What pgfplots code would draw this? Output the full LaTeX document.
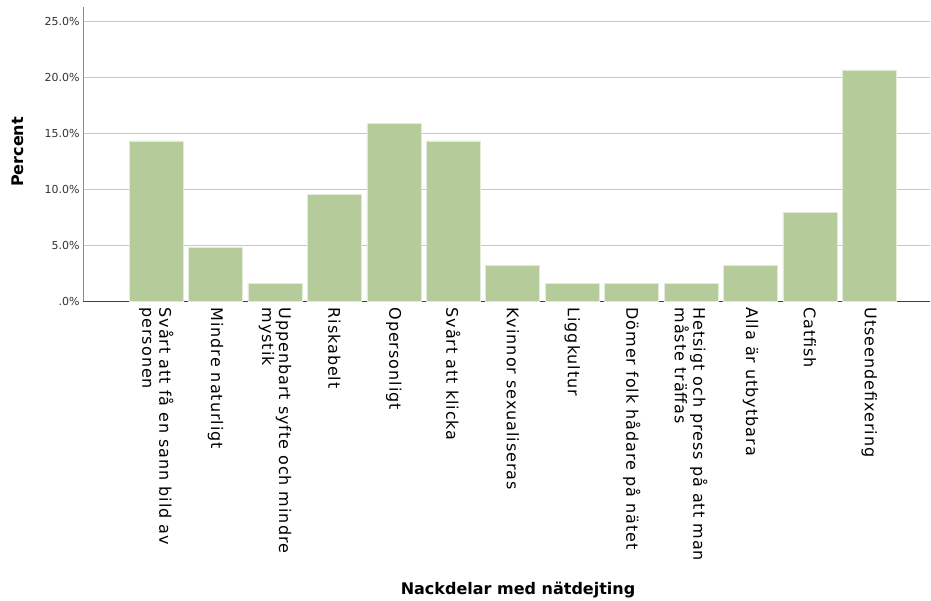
\documentclass[border=0pt]{standalone}
\usepackage{fontspec}
\setmainfont{DejaVu Sans}
\newfontfamily\catfont[LetterSpace=6]{DejaVu Sans}
\usepackage{pgfplots}
\pgfplotsset{compat=1.18}
\definecolor{barc}{RGB}{181,204,154}
\definecolor{gridc}{RGB}{200,200,200}
\definecolor{tickc}{RGB}{50,50,50}
\begin{document}
\begin{tikzpicture}[x=1pt,y=1pt]
\path[use as bounding box] (0,0) rectangle (931,600);
\begin{axis}[
  at={(83pt,299pt)}, anchor=south west,
  scale only axis, width=847pt, height=294pt,
  xmin=-1.23, xmax=13.02, ymin=0, ymax=26.25,
  axis x line=bottom, axis y line=left,
  axis line style={-, draw=black!75, line width=0.8pt},
  y axis line style={draw=black!45},
  ymajorgrids, grid style={gridc, line width=0.8pt},
  major tick length=0pt,
  xtick={0,...,12},
  xticklabels={{Svårt att få en sann bild av\\personen},{Mindre naturligt},{Uppenbart syfte och mindre\\mystik},{Riskabelt},{Opersonligt},{Svårt att klicka},{Kvinnor sexualiseras},{Liggkultur},{Dömer folk hådare på nätet},{Hetsigt och press på att man\\måste träffas},{Alla är utbytbara},{Catfish},{Utseendefixering}},
  xticklabel style={rotate=-90, anchor=west, align=left, font=\catfont\fontsize{16}{17}\selectfont, text=black, xshift=3pt},
  ytick={0,5,10,15,20,25},
  yticklabels={.0\%,5.0\%,10.0\%,15.0\%,20.0\%,25.0\%},
  yticklabel style={font=\fontsize{11}{13}\selectfont, text=tickc},
  xlabel={Nackdelar med nätdejting},
  ylabel={Percent},
  xlabel style={font=\fontsize{16}{19}\selectfont\bfseries, at={(axis description cs:0.5136,-0.983)}, anchor=center},
  ylabel style={font=\fontsize{16}{19}\selectfont\bfseries, at={(axis description cs:-0.0767,0.507)}, anchor=center, rotate=0},
  clip=false,
]
\addplot[ybar, bar width=54pt, fill=barc, draw=white!60!barc, line width=0.6pt] coordinates {
 (0,14.29) (1,4.76) (2,1.59) (3,9.52) (4,15.87) (5,14.29) (6,3.17) (7,1.59) (8,1.59) (9,1.59) (10,3.17) (11,7.94) (12,20.63)
};
\end{axis}
\end{tikzpicture}
\end{document}
